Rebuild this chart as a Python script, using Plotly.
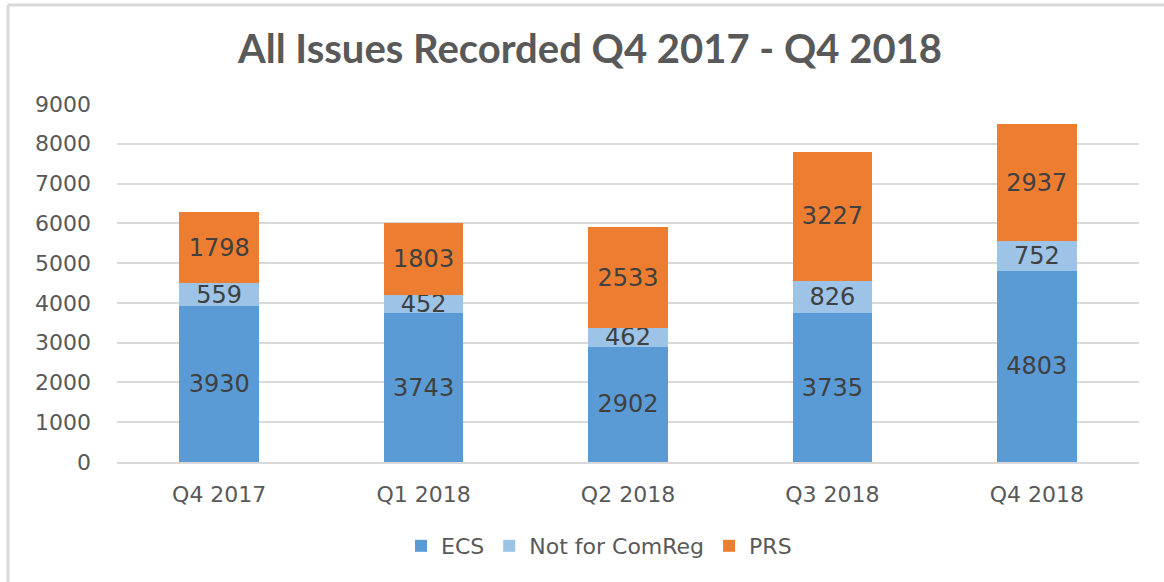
import plotly.graph_objects as go

categories = ["Q4 2017", "Q1 2018", "Q2 2018", "Q3 2018", "Q4 2018"]
ecs = [3930, 3743, 2902, 3735, 4803]
not_comreg = [559, 452, 462, 826, 752]
prs = [1798, 1803, 2533, 3227, 2937]
y_ticks = [0, 1000, 2000, 3000, 4000, 5000, 6000, 7000, 8000, 9000]

series = [
    ("ECS", ecs, "#5B9BD5"),
    ("Not for ComReg", not_comreg, "#9DC3E6"),
    ("PRS", prs, "#ED7D31"),
]

W, H = 1164, 582
L, R, T, B = 117, 25, 104, 120
PW, PH = W - L - R, H - T - B

fig = go.Figure()
for name, vals, color in series:
    fig.add_trace(go.Bar(
        x=categories, y=vals, name=name,
        marker=dict(color=color, line=dict(width=0)),
        text=[str(v) for v in vals], textposition="inside",
        insidetextanchor="middle",
        textfont=dict(family="DejaVu Sans", size=24, color="#404040"),
        constraintext="none",
    ))

fig.update_layout(
    barmode="stack",
    bargap=0.61,
    width=W, height=H,
    margin=dict(l=L, r=R, t=T, b=B),
    paper_bgcolor="white", plot_bgcolor="white",
    title=dict(text="<b>All Issues Recorded Q4 2017 - Q4 2018</b>",
               x=(590 - L) / PW, xref="paper", xanchor="center",
               y=1 - 49 / H, yanchor="middle",
               font=dict(family="Lato", size=40, color="#595959")),
    legend=dict(orientation="h", x=(599 - L) / PW, xanchor="center", xref="paper",
                y=-84 / PH, yanchor="middle",
                font=dict(family="DejaVu Sans", size=22, color="#595959"),
                itemwidth=30, traceorder="normal"),
    showlegend=True,
)
fig.update_yaxes(range=[0, 9000], tickvals=y_ticks, showgrid=True,
                 gridcolor="#D9D9D9", gridwidth=1.5, zeroline=False,
                 showline=False, ticks="", ticklabelstandoff=25,
                 tickfont=dict(family="DejaVu Sans", size=22, color="#595959"))
fig.update_xaxes(showline=True, linecolor="#D9D9D9", linewidth=1.5,
                 ticks="", ticklabelstandoff=12,
                 tickfont=dict(family="DejaVu Sans", size=22, color="#595959"))

top_y = 1 + (T - 5) / PH
left_x = (8 - L) / PW
fig.add_shape(type="line", xref="paper", yref="paper",
              x0=left_x, x1=left_x, y0=-B / PH, y1=top_y,
              line=dict(color="#D9D9D9", width=3))
fig.add_shape(type="line", xref="paper", yref="paper",
              x0=left_x, x1=1 + R / PW, y0=top_y, y1=top_y,
              line=dict(color="#D9D9D9", width=3))

fig.write_html("out.html", config={"displayModeBar": False},
               post_script="document.body.style.margin='0px';")
